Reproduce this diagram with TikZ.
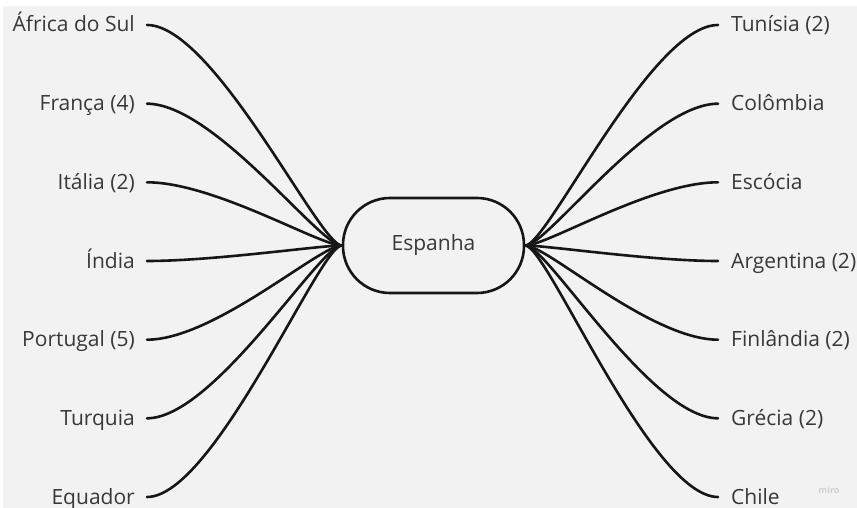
\documentclass[tikz,border=0pt]{standalone}
\usepackage{fontspec}
\setmainfont{Open Sans}
\definecolor{pagebg}{HTML}{F2F2F2}
\definecolor{linkcol}{HTML}{161616}
\definecolor{txtcol}{HTML}{383838}
\begin{document}
\begin{tikzpicture}[x=1pt,y=-1pt,
  link/.style={line width=2.6pt, draw=linkcol, line cap=round},
  lbltext/.style={inner ysep=0pt, text height=18pt, text depth=4pt,
    font=\fontsize{21}{24}\selectfont, text=txtcol},
  leftlbl/.style={lbltext, anchor=east, inner xsep=12pt},
  rightlbl/.style={lbltext, anchor=west, inner xsep=13pt},
  hub/.style={draw=linkcol, line width=2.6pt, rounded corners=47pt,
    minimum width=181pt, minimum height=95pt, inner sep=0pt,
    font=\fontsize{21}{24}\selectfont, text=txtcol}]
  % page background
  \fill[white] (0,0) rectangle (857,508);
  \fill[pagebg] (3,6) rectangle (857,508);
  \useasboundingbox (0,0) rectangle (857,508);

  % central topic
  \node[hub] (hub) at (433.5,245.5) {Espanha};

  % left branches
  \foreach \n/\t/\y in {l1/África do Sul/25, l2/França (4)/103.7,
      l3/Itália (2)/182.3, l4/Índia/261, l5/Portugal (5)/339.7,
      l6/Turquia/418.3, l7/Equador/497} {
    \node[leftlbl] (\n) at (147,\y) {\t};
    \draw[link] (\n.east) .. controls +(67,0) and +(-22,0) .. (hub.west);
  }

  % right branches
  \foreach \n/\t/\y in {r1/Tunísia (2)/25, r2/Colômbia/103.7,
      r3/Escócia/182.3, r4/Argentina (2)/261, r5/Finlândia (2)/339.7,
      r6/Grécia (2)/418.3, r7/Chile/497} {
    \node[rightlbl] (\n) at (718,\y) {\t};
    \draw[link] (hub.east) .. controls +(22,0) and +(-67,0) .. (\n.west);
  }

  % watermark
  \node[text=black!18, font=\fontsize{9}{10}\selectfont\bfseries] (wm) at (829,490) {miro};
\end{tikzpicture}
\end{document}
